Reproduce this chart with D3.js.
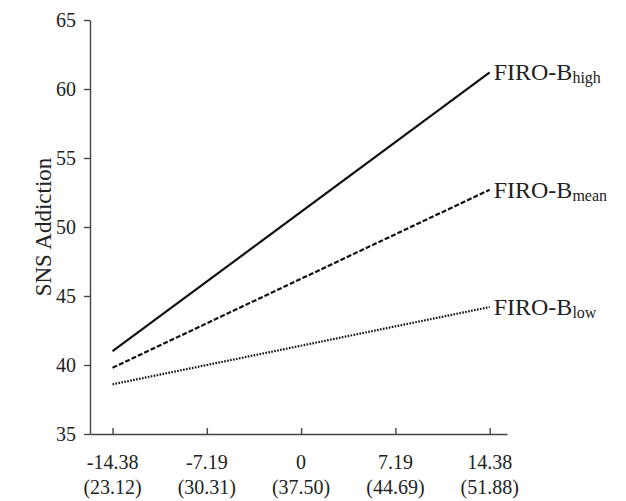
<!DOCTYPE html>
<html><head><meta charset="utf-8">
<script src="https://cdn.jsdelivr.net/npm/d3@7/dist/d3.min.js"></script>
<style>body{margin:0;background:#fff;} svg{display:block;} text{font-family:"Liberation Serif","Times New Roman",serif;fill:#222;}</style>
</head><body>
<svg id="chart" width="626" height="501"></svg>
<script>
const xTicks = [-14.38, -7.19, 0, 7.19, 14.38];
const xTickLabels2 = ["(23.12)", "(30.31)", "(37.50)", "(44.69)", "(51.88)"];
const yTicks = [35, 40, 45, 50, 55, 60, 65];
const xEnds = [-14.38, 14.38];
const highValues = [41.0, 61.2];
const meanValues = [39.8, 52.7];
const lowValues = [38.6, 44.2];
const seriesNames = ["high", "mean", "low"];

const svg = d3.select("#chart");
const x = d3.scaleLinear().domain([-16.1, 15.7]).range([90, 507]);
const y = d3.scaleLinear().domain([35, 65]).range([434, 20]);

// y axis
const yAxis = svg.append("g").attr("transform", "translate(90,0)")
  .call(d3.axisLeft(y).tickValues(yTicks).tickSize(6).tickPadding(8).tickSizeOuter(0));
yAxis.selectAll("text").style("font-size", "20px").attr("dy", "0.34em");
yAxis.select(".domain").attr("stroke", "#444").attr("stroke-width", 1.4);
yAxis.selectAll(".tick line").attr("stroke", "#444").attr("stroke-width", 1.4);

// x axis
const xAxis = svg.append("g").attr("transform", "translate(0,434)")
  .call(d3.axisTop(x).tickValues(xTicks).tickSize(6).tickSizeOuter(0).tickFormat(""));
xAxis.select(".domain").attr("stroke", "#444").attr("stroke-width", 1.4);
xAxis.selectAll(".tick line").attr("stroke", "#444").attr("stroke-width", 1.4);

const fmt = d => d === 0 ? "0" : d.toFixed(2);
svg.append("g").selectAll("text").data(xTicks).join("text")
  .attr("x", d => x(d)).attr("y", 469).attr("text-anchor", "middle")
  .style("font-size", "20px").text(fmt);
svg.append("g").selectAll("text").data(xTicks).join("text")
  .attr("x", d => x(d)).attr("y", 494).attr("text-anchor", "middle")
  .style("font-size", "20px").text((d, i) => xTickLabels2[i]);

// y label
svg.append("text").attr("transform", "translate(51,227) rotate(-90)")
  .attr("text-anchor", "middle").style("font-size", "23px").text("SNS Addiction");

const series = [
  {name: "high", vals: highValues, dash: null},
  {name: "mean", vals: meanValues, dash: "5,2"},
  {name: "low", vals: lowValues, dash: "1.6,1.4"}
];
const line = d3.line().x(d => x(d[0])).y(d => y(d[1]));
series.forEach(s => {
  const pts = xEnds.map((xv, i) => [xv, s.vals[i]]);
  svg.append("path").attr("d", line(pts)).attr("fill", "none")
    .attr("stroke", "#111").attr("stroke-width", 2.2)
    .attr("stroke-dasharray", s.dash);
  const t = svg.append("text").attr("x", x(xEnds[1]) + 4).attr("y", y(s.vals[1]) + 8)
    .style("font-size", "24px");
  t.append("tspan").text("FIRO-B");
  t.append("tspan").attr("dy", 3).style("font-size", "16px").text(s.name);
});
</script>
</body></html>
